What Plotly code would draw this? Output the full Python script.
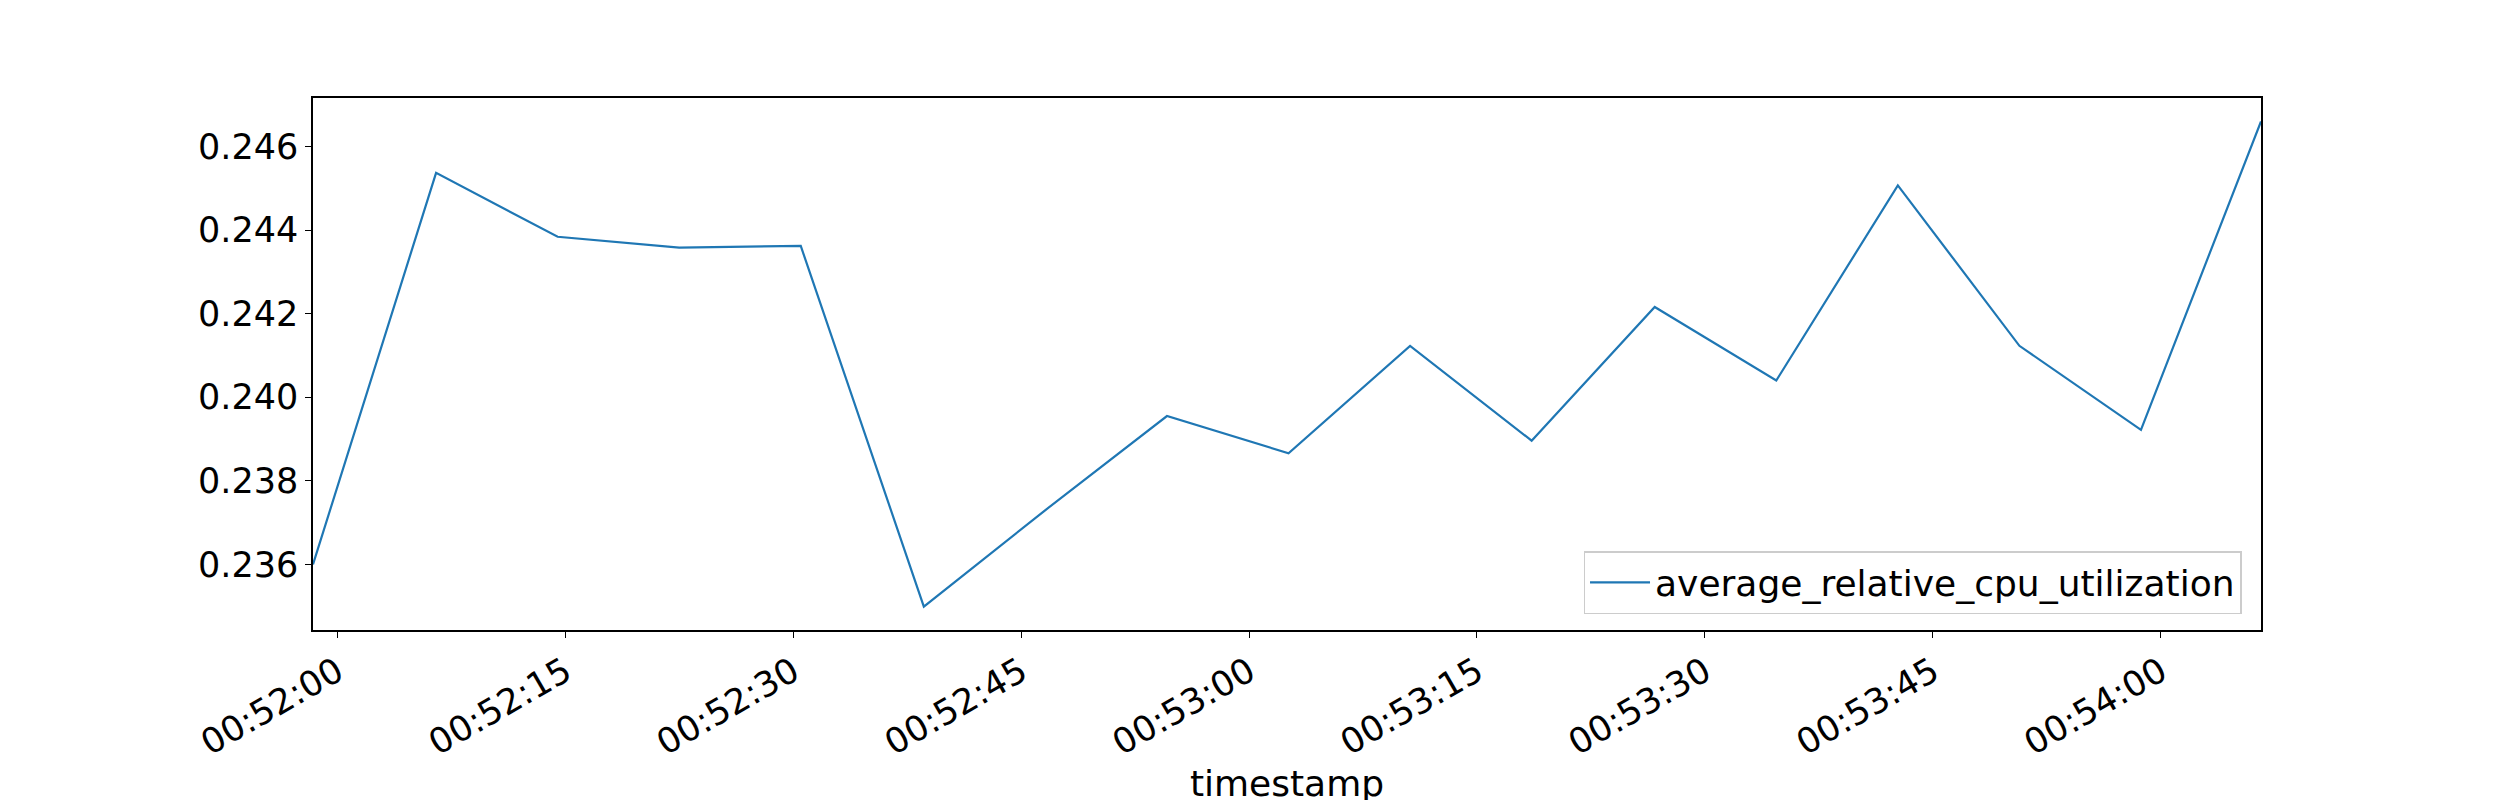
import plotly.graph_objects as go

timestamps = ["2024-01-01 00:51:58.4", "2024-01-01 00:52:06.5", "2024-01-01 00:52:14.5",
              "2024-01-01 00:52:22.5", "2024-01-01 00:52:30.5", "2024-01-01 00:52:38.6",
              "2024-01-01 00:52:46.6", "2024-01-01 00:52:54.6", "2024-01-01 00:53:02.6",
              "2024-01-01 00:53:10.6", "2024-01-01 00:53:18.6", "2024-01-01 00:53:26.7",
              "2024-01-01 00:53:34.7", "2024-01-01 00:53:42.7", "2024-01-01 00:53:50.7",
              "2024-01-01 00:53:58.7", "2024-01-01 00:54:06.6"]
cpu = [0.2360, 0.24537, 0.24384, 0.24358, 0.24362, 0.23499, 0.2373, 0.23955, 0.23866,
       0.24123, 0.23896, 0.24216, 0.2404, 0.24507, 0.24123, 0.23922, 0.2466]

tick_vals = ["2024-01-01 00:52:00", "2024-01-01 00:52:15", "2024-01-01 00:52:30",
             "2024-01-01 00:52:45", "2024-01-01 00:53:00", "2024-01-01 00:53:15",
             "2024-01-01 00:53:30", "2024-01-01 00:53:45", "2024-01-01 00:54:00"]
tick_text = ["00:52:00", "00:52:15", "00:52:30", "00:52:45", "00:53:00",
             "00:53:15", "00:53:30", "00:53:45", "00:54:00"]

fig = go.Figure()
fig.add_trace(go.Scatter(x=timestamps, y=cpu, mode="lines",
                         name="average_relative_cpu_utilization",
                         line=dict(color="#1f77b4", width=2.2)))

axis_style = dict(showline=True, linecolor="black", linewidth=1.5, mirror=True,
                  ticks="outside", ticklen=6, tickcolor="black",
                  showgrid=False, zeroline=False, tickfont=dict(size=35, color="black"))

fig.update_xaxes(range=[timestamps[0], timestamps[-1]], tickvals=tick_vals,
                 ticktext=tick_text, tickangle=-30,
                 title=dict(text="timestamp", font=dict(size=36, color="black"), standoff=8),
                 **axis_style)
fig.update_yaxes(range=[0.23443, 0.24716], tickvals=[0.236, 0.238, 0.240, 0.242, 0.244, 0.246],
                 tickformat=".3f", **axis_style)

fig.update_layout(
    width=2500, height=800,
    margin=dict(l=305, r=247, t=90, b=152),
    font=dict(family="DejaVu Sans", color="black"),
    plot_bgcolor="white", paper_bgcolor="white",
    showlegend=True,
    legend=dict(x=0.99, y=0.03, xanchor="right", yanchor="bottom",
                font=dict(size=36), bordercolor="#cccccc", borderwidth=1.5,
                itemwidth=60, bgcolor="rgba(255,255,255,0.8)"),
)

fig.write_html("out.html")
